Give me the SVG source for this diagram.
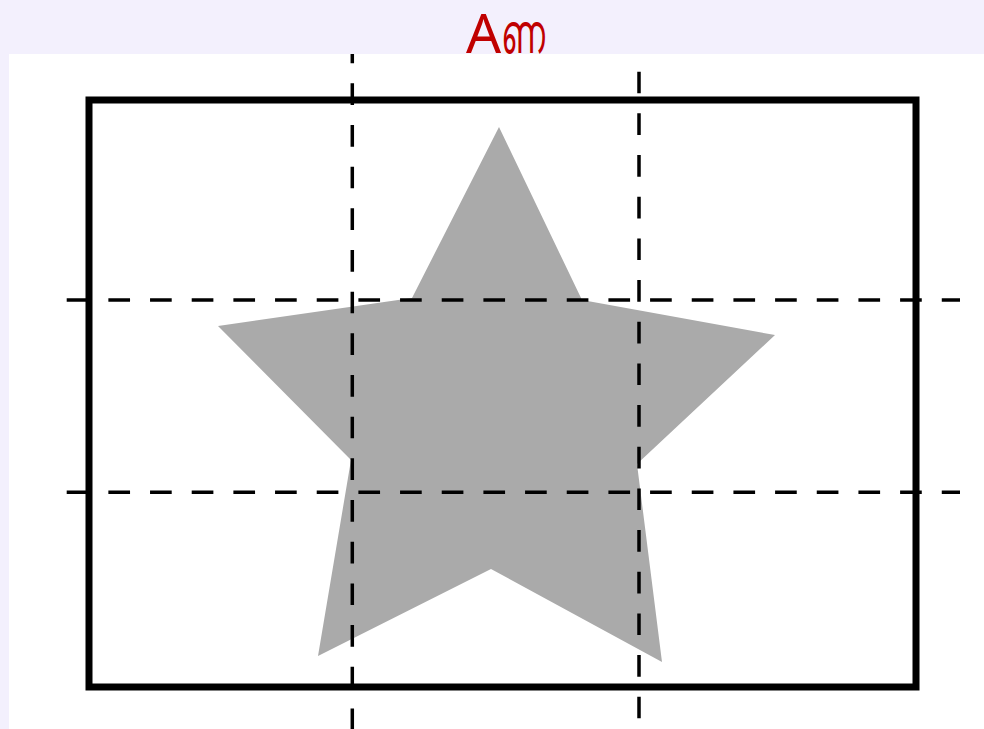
<svg xmlns="http://www.w3.org/2000/svg" width="984" height="729" viewBox="0 0 984 729">
  <style>
    .dash { stroke: #000; stroke-width: 3.5; stroke-dasharray: 21.67 20; fill: none; }
    .frame { fill: none; stroke: #000; stroke-width: 7; }
    .star { fill: #aaaaaa; stroke: none; }
    .title { font-family: "Noto Sans", "DejaVu Sans", "Liberation Sans", sans-serif; font-size: 55px; fill: #c00000; }
  </style>
  <rect x="0" y="0" width="984" height="729" fill="#f3f0fd"/>
  <rect x="9" y="54" width="975" height="675" fill="#ffffff"/>
  <g id="star">
    <polygon class="star" points="499,127 582,300 775,335 637,464 662,662 491,569 318,656 351,460 218,326 412,298"/>
  </g>
  <g id="frame">
    <rect class="frame" x="89" y="100" width="827" height="587"/>
  </g>
  <g id="grid">
    <line class="dash" x1="352.3" y1="41.67" x2="352.3" y2="729"/>
    <line class="dash" x1="639" y1="71.7" x2="639" y2="718.3"/>
    <line class="dash" x1="66.7" y1="300" x2="960" y2="300"/>
    <line class="dash" x1="66.7" y1="492.3" x2="960" y2="492.3"/>
  </g>
  <rect x="0" y="0" width="984" height="54" fill="#f3f0fd"/>
  <g id="title">
    <text class="title" x="466" y="53">A<tspan textLength="44" lengthAdjust="spacingAndGlyphs">ണ</tspan></text>
  </g>
</svg>
